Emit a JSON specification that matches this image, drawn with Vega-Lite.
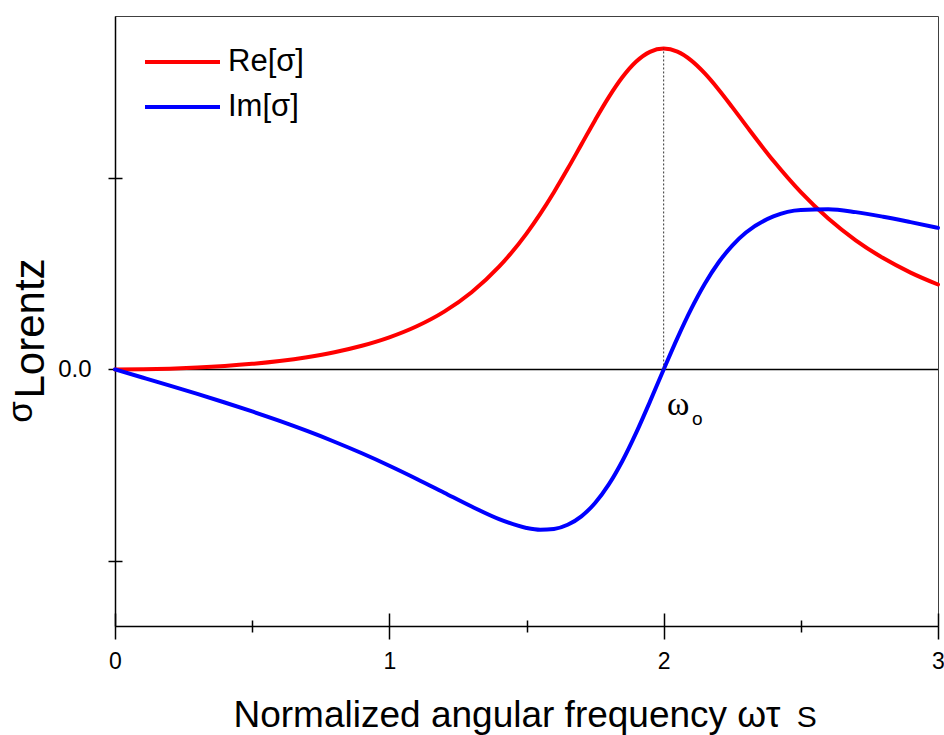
{
  "$schema": "https://vega.github.io/schema/vega-lite/v6.json",
  "width": 823,
  "height": 610,
  "autosize": {"type": "none"},
  "padding": {"left": 115, "top": 16, "right": 6, "bottom": 109},
  "background": "white",
  "config": {
    "view": {"stroke": "#404040", "strokeWidth": 1},
    "axis": {"grid": false, "labelFont": "Liberation Sans", "titleFont": "Liberation Sans", "labelColor": "black", "titleColor": "black", "tickColor": "black", "tickWidth": 1.5, "domainColor": "black", "domainWidth": 1.5, "titleFontWeight": "normal"},
    "text": {"font": "Liberation Sans", "color": "black"}
  },
  "datasets": {
    "curves": [
      {"w": 0.0, "sigma": 0.0, "part": "Re[σ]"},
      {"w": 0.1, "sigma": 0.0011, "part": "Re[σ]"},
      {"w": 0.2, "sigma": 0.0043, "part": "Re[σ]"},
      {"w": 0.3, "sigma": 0.0098, "part": "Re[σ]"},
      {"w": 0.4, "sigma": 0.018, "part": "Re[σ]"},
      {"w": 0.5, "sigma": 0.0292, "part": "Re[σ]"},
      {"w": 0.6, "sigma": 0.0442, "part": "Re[σ]"},
      {"w": 0.7, "sigma": 0.064, "part": "Re[σ]"},
      {"w": 0.8, "sigma": 0.0897, "part": "Re[σ]"},
      {"w": 0.9, "sigma": 0.1233, "part": "Re[σ]"},
      {"w": 1.0, "sigma": 0.1672, "part": "Re[σ]"},
      {"w": 1.1, "sigma": 0.2249, "part": "Re[σ]"},
      {"w": 1.2, "sigma": 0.3012, "part": "Re[σ]"},
      {"w": 1.3, "sigma": 0.4022, "part": "Re[σ]"},
      {"w": 1.4, "sigma": 0.5353, "part": "Re[σ]"},
      {"w": 1.5, "sigma": 0.7081, "part": "Re[σ]"},
      {"w": 1.55, "sigma": 0.8108, "part": "Re[σ]"},
      {"w": 1.6, "sigma": 0.9238, "part": "Re[σ]"},
      {"w": 1.65, "sigma": 1.0454, "part": "Re[σ]"},
      {"w": 1.7, "sigma": 1.1722, "part": "Re[σ]"},
      {"w": 1.75, "sigma": 1.2992, "part": "Re[σ]"},
      {"w": 1.8, "sigma": 1.419, "part": "Re[σ]"},
      {"w": 1.85, "sigma": 1.5236, "part": "Re[σ]"},
      {"w": 1.9, "sigma": 1.6044, "part": "Re[σ]"},
      {"w": 1.95, "sigma": 1.655, "part": "Re[σ]"},
      {"w": 2.0, "sigma": 1.672, "part": "Re[σ]"},
      {"w": 2.05, "sigma": 1.6559, "part": "Re[σ]"},
      {"w": 2.1, "sigma": 1.6106, "part": "Re[σ]"},
      {"w": 2.15, "sigma": 1.5427, "part": "Re[σ]"},
      {"w": 2.2, "sigma": 1.4593, "part": "Re[σ]"},
      {"w": 2.25, "sigma": 1.3671, "part": "Re[σ]"},
      {"w": 2.3, "sigma": 1.2719, "part": "Re[σ]"},
      {"w": 2.4, "sigma": 1.0873, "part": "Re[σ]"},
      {"w": 2.5, "sigma": 0.9238, "part": "Re[σ]"},
      {"w": 2.6, "sigma": 0.7861, "part": "Re[σ]"},
      {"w": 2.7, "sigma": 0.6729, "part": "Re[σ]"},
      {"w": 2.8, "sigma": 0.5804, "part": "Re[σ]"},
      {"w": 2.9, "sigma": 0.5048, "part": "Re[σ]"},
      {"w": 3.0, "sigma": 0.4426, "part": "Re[σ]"},
      {"w": 0.0, "sigma": 0.0, "part": "Im[σ]"},
      {"w": 0.1, "sigma": -0.0419, "part": "Im[σ]"},
      {"w": 0.2, "sigma": -0.0842, "part": "Im[σ]"},
      {"w": 0.3, "sigma": -0.1275, "part": "Im[σ]"},
      {"w": 0.4, "sigma": -0.1723, "part": "Im[σ]"},
      {"w": 0.5, "sigma": -0.219, "part": "Im[σ]"},
      {"w": 0.6, "sigma": -0.2683, "part": "Im[σ]"},
      {"w": 0.7, "sigma": -0.3207, "part": "Im[σ]"},
      {"w": 0.8, "sigma": -0.3767, "part": "Im[σ]"},
      {"w": 0.9, "sigma": -0.4369, "part": "Im[σ]"},
      {"w": 1.0, "sigma": -0.5016, "part": "Im[σ]"},
      {"w": 1.1, "sigma": -0.5705, "part": "Im[σ]"},
      {"w": 1.2, "sigma": -0.6426, "part": "Im[σ]"},
      {"w": 1.3, "sigma": -0.7146, "part": "Im[σ]"},
      {"w": 1.4, "sigma": -0.7801, "part": "Im[σ]"},
      {"w": 1.5, "sigma": -0.8262, "part": "Im[σ]"},
      {"w": 1.55, "sigma": -0.8356, "part": "Im[σ]"},
      {"w": 1.6, "sigma": -0.8314, "part": "Im[σ]"},
      {"w": 1.65, "sigma": -0.8094, "part": "Im[σ]"},
      {"w": 1.7, "sigma": -0.7654, "part": "Im[σ]"},
      {"w": 1.75, "sigma": -0.696, "part": "Im[σ]"},
      {"w": 1.8, "sigma": -0.5991, "part": "Im[σ]"},
      {"w": 1.85, "sigma": -0.4756, "part": "Im[σ]"},
      {"w": 1.9, "sigma": -0.3293, "part": "Im[σ]"},
      {"w": 1.95, "sigma": -0.1676, "part": "Im[σ]"},
      {"w": 2.0, "sigma": 0.0, "part": "Im[σ]"},
      {"w": 2.05, "sigma": 0.1636, "part": "Im[σ]"},
      {"w": 2.1, "sigma": 0.3145, "part": "Im[σ]"},
      {"w": 2.15, "sigma": 0.4467, "part": "Im[σ]"},
      {"w": 2.2, "sigma": 0.5572, "part": "Im[σ]"},
      {"w": 2.25, "sigma": 0.6456, "part": "Im[σ]"},
      {"w": 2.3, "sigma": 0.7134, "part": "Im[σ]"},
      {"w": 2.4, "sigma": 0.7973, "part": "Im[σ]"},
      {"w": 2.5, "sigma": 0.8314, "part": "Im[σ]"},
      {"w": 2.6, "sigma": 0.8345, "part": "Im[σ]"},
      {"w": 2.7, "sigma": 0.8199, "part": "Im[σ]"},
      {"w": 2.8, "sigma": 0.796, "part": "Im[σ]"},
      {"w": 2.9, "sigma": 0.7676, "part": "Im[σ]"},
      {"w": 3.0, "sigma": 0.7376, "part": "Im[σ]"}
    ]
  },
  "resolve": {"axis": {"x": "independent", "y": "independent"}},
  "layer": [
    {
      "data": {"values": [{}]},
      "mark": {"type": "rule", "color": "black", "strokeWidth": 1.5},
      "encoding": {
        "y": {"datum": 0, "type": "quantitative", "scale": {"domain": [-1.337, 1.842], "nice": false, "zero": false}, "axis": null}
      }
    },
    {
      "data": {"name": "curves"},
      "mark": {"type": "line", "strokeOpacity": 0, "strokeWidth": 1},
      "encoding": {
        "x": {
          "field": "w", "type": "quantitative",
          "scale": {"domain": [0, 3], "nice": false, "zero": false},
          "axis": {
            "orient": "bottom",
            "values": [0, 0.5, 1, 1.5, 2, 2.5, 3],
            "tickSize": {"condition": {"test": "datum.value % 1 === 0", "value": -13}, "value": -6},
            "labels": false, "domain": false, "title": null
          }
        },
        "y": {
          "field": "sigma", "type": "quantitative",
          "scale": {"domain": [-1.337, 1.842], "nice": false, "zero": false},
          "axis": {
            "orient": "left", "values": [-1, 0, 1], "tickSize": -7,
            "labels": false, "domain": false, "title": null
          }
        },
        "detail": {"field": "part"}
      }
    },
    {
      "data": {"name": "curves"},
      "mark": {"type": "line", "strokeWidth": 4, "interpolate": "monotone", "strokeCap": "round", "strokeJoin": "round"},
      "encoding": {
        "x": {
          "field": "w", "type": "quantitative",
          "scale": {"domain": [0, 3], "nice": false, "zero": false},
          "axis": {
            "orient": "bottom",
            "values": [0, 0.5, 1, 1.5, 2, 2.5, 3],
            "tickSize": {"condition": {"test": "datum.value % 1 === 0", "value": 13}, "value": 6},
            "labelExpr": "datum.value % 1 === 0 ? format(datum.value, 'd') : ''",
            "labelPadding": 11,
            "labelFontSize": 23,
            "labelFlush": false,
            "labelOverlap": false,
            "labelBound": false,
            "title": "Normalized angular frequency ωτ",
            "titleFontSize": 37,
            "titleAlign": "left",
            "titleBaseline": "alphabetic",
            "titleX": 118,
            "titleY": 100
          }
        },
        "y": {
          "field": "sigma", "type": "quantitative",
          "scale": {"domain": [-1.337, 1.842], "nice": false, "zero": false},
          "axis": {
            "orient": "left",
            "values": [-1, 0, 1],
            "tickSize": 7,
            "labelExpr": "datum.value === 0 ? '0.0' : ''",
            "labelPadding": 17,
            "labelFontSize": 24,
            "labelOverlap": false,
            "labelBound": false,
            "title": "Lorentz",
            "titleFontSize": 42,
            "titleAngle": 270,
            "titleAlign": "left",
            "titleBaseline": "alphabetic",
            "titleX": -72,
            "titleY": 382
          }
        },
        "color": {
          "field": "part", "type": "nominal",
          "scale": {"domain": ["Re[σ]", "Im[σ]"], "range": ["#ff0000", "#0000ff"]},
          "legend": {
            "orient": "none", "legendX": 28, "legendY": 23.5, "title": null,
            "symbolType": "stroke", "symbolSize": 5625, "symbolStrokeWidth": 4,
            "labelFontSize": 31, "labelFont": "Liberation Sans", "labelColor": "black",
            "clipHeight": 45, "rowPadding": 0, "labelOffset": 6, "padding": 0
          }
        }
      }
    },
    {
      "data": {"values": [{}]},
      "mark": {"type": "rule", "color": "#333333", "strokeWidth": 1, "strokeDash": [2, 2]},
      "encoding": {
        "x": {"datum": 2, "type": "quantitative", "scale": {"domain": [0, 3], "nice": false, "zero": false}, "axis": null},
        "y": {"datum": 0, "type": "quantitative", "scale": {"domain": [-1.337, 1.842], "nice": false, "zero": false}, "axis": null},
        "y2": {"datum": 1.672}
      }
    },
    {
      "data": {"values": [{}]},
      "mark": {"type": "text", "text": "σ", "fontSize": 35, "angle": 270, "align": "right", "baseline": "alphabetic"},
      "encoding": {
        "x": {"datum": -0.3025, "type": "quantitative", "scale": {"domain": [0, 3], "nice": false, "zero": false}, "axis": null},
        "y": {"datum": -0.165, "type": "quantitative", "scale": {"domain": [-1.337, 1.842], "nice": false, "zero": false}, "axis": null}
      }
    },
    {
      "data": {"values": [{}]},
      "mark": {"type": "text", "text": "S", "fontSize": 30, "align": "left", "baseline": "alphabetic"},
      "encoding": {
        "x": {"datum": 2.4854, "type": "quantitative", "scale": {"domain": [0, 3], "nice": false, "zero": false}, "axis": null},
        "y": {"datum": -1.863, "type": "quantitative", "scale": {"domain": [-1.337, 1.842], "nice": false, "zero": false}, "axis": null}
      }
    },
    {
      "data": {"values": [{}]},
      "mark": {"type": "text", "text": "ω", "font": "Liberation Serif", "fontSize": 34, "align": "left", "baseline": "alphabetic"},
      "encoding": {
        "x": {"datum": 2.012, "type": "quantitative", "scale": {"domain": [0, 3], "nice": false, "zero": false}, "axis": null},
        "y": {"datum": -0.238, "type": "quantitative", "scale": {"domain": [-1.337, 1.842], "nice": false, "zero": false}, "axis": null}
      }
    },
    {
      "data": {"values": [{}]},
      "mark": {"type": "text", "text": "o", "fontSize": 19, "align": "left", "baseline": "alphabetic"},
      "encoding": {
        "x": {"datum": 2.103, "type": "quantitative", "scale": {"domain": [0, 3], "nice": false, "zero": false}, "axis": null},
        "y": {"datum": -0.29, "type": "quantitative", "scale": {"domain": [-1.337, 1.842], "nice": false, "zero": false}, "axis": null}
      }
    }
  ]
}
